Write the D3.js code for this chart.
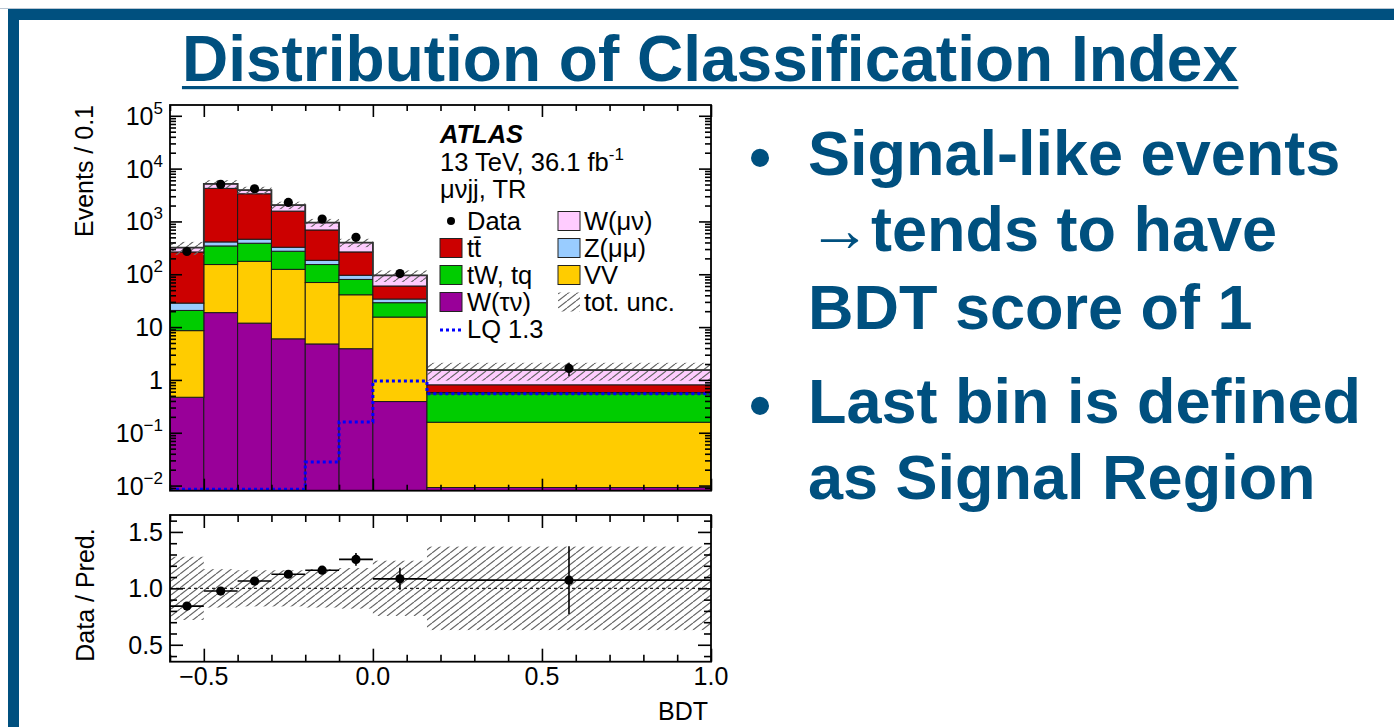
<!DOCTYPE html>
<html>
<head>
<meta charset="utf-8">
<script src="https://cdn.jsdelivr.net/npm/d3@7"></script>
<style>
  html, body { margin: 0; padding: 0; background: #ffffff; }
  svg { display: block; }
</style>
</head>
<body>
<svg id="slide" width="1394" height="727"></svg>
<script>
// ---- BDT histogram: bin edges and per-bin yields (events / 0.1) ----
const bdtEdges   = [-0.6, -0.5, -0.4, -0.3, -0.2, -0.1, 0.0, 0.16, 1.0];
const dataEvents = [270, 5030, 4160, 2290, 1107, 500, 103, 1.65];
const dataRelErr = [0.035, 0.014, 0.016, 0.02, 0.03, 0.045, 0.09, 0.28];
const wTauNu     = [0.47, 18.8, 11.9, 6.0, 4.8, 3.9, 0.39, 0.0092];
const dibosonVV  = [8.1, 134, 164, 118, 65, 37, 15.1, 0.149];
const singleTop  = [12.1, 191, 211, 149, 83, 39, 13.5, 0.39];
const zMuMu      = [7.8, 66, 74, 52, 31, 16, 5, 0.03];
const ttbar      = [236, 3820, 2880, 1245, 506, 169, 26, 0.23];
const wMuNu      = [56, 924, 566, 466, 264, 133, 35, 0.73];
const lq13       = [0, 0, 0, 0, 0.028, 0.16, 0.95, 0.55];
const totUnc     = [0.28, 0.17, 0.16, 0.16, 0.17, 0.18, 0.245, 0.37];

// ---- axis tick labels ----
const mainYLabels  = [{v: 1e5, b: "10", e: "5"}, {v: 1e4, b: "10", e: "4"}, {v: 1e3, b: "10", e: "3"},
                      {v: 1e2, b: "10", e: "2"}, {v: 10, b: "10", e: ""}, {v: 1, b: "1", e: ""},
                      {v: 0.1, b: "10", e: "\u22121"}, {v: 0.01, b: "10", e: "\u22122"}];
const ratioYLabels = [{v: 0.5, t: "0.5"}, {v: 1.0, t: "1.0"}, {v: 1.5, t: "1.5"}];
const xLabels      = [{v: -0.5, t: "\u22120.5"}, {v: 0.0, t: "0.0"}, {v: 0.5, t: "0.5"}, {v: 1.0, t: "1.0"}];

// ---- process definitions (stack order bottom to top) ----
const processes = [
  {key: "wtaunu", label: "W(\u03C4\u03BD)", values: wTauNu,    color: "#990099"},
  {key: "vv",     label: "VV",              values: dibosonVV, color: "#ffcc00"},
  {key: "tw",     label: "tW, tq",          values: singleTop, color: "#00cc00"},
  {key: "zmumu",  label: "Z(\u03BC\u03BC)", values: zMuMu,     color: "#99ccff"},
  {key: "ttbar",  label: "tt\u0304",        values: ttbar,     color: "#cc0000"},
  {key: "wmunu",  label: "W(\u03BC\u03BD)", values: wMuNu,     color: "#ffccff"}
];

const BLUE = "#00507f";
const FONT = "'Liberation Sans', Arial, Helvetica, sans-serif";

const svg = d3.select("#slide");

// ---------- slide frame ----------
svg.append("rect").attr("x", 0).attr("y", 8).attr("width", 1394).attr("height", 1).attr("fill", "#b9c6d3");
svg.append("rect").attr("x", 8).attr("y", 9).attr("width", 1386).attr("height", 11).attr("fill", BLUE);
svg.append("rect").attr("x", 8).attr("y", 9).attr("width", 11).attr("height", 718).attr("fill", BLUE);

// ---------- slide title ----------
const title = svg.append("text")
  .attr("x", 710).attr("y", 81)
  .attr("text-anchor", "middle")
  .attr("font-family", FONT).attr("font-weight", "bold").attr("font-size", 64)
  .attr("fill", BLUE)
  .text("Distribution of Classification Index");
const tb = title.node().getBBox();
svg.append("rect").attr("x", tb.x).attr("y", 86).attr("width", tb.width).attr("height", 3.2).attr("fill", BLUE);

// ---------- bullet text ----------
const bulletLines = [
  {y: 175, t: "Signal-like events", dot: true},
  {y: 251, t: "\u2192tends to have", dot: false},
  {y: 329, t: "BDT score of 1", dot: false},
  {y: 423, t: "Last bin is defined", dot: true},
  {y: 499, t: "as Signal Region", dot: false}
];
const bullets = svg.append("g").attr("font-family", FONT).attr("font-weight", "bold")
  .attr("font-size", 63).attr("fill", BLUE);
bulletLines.forEach(l => {
  if (l.dot) bullets.append("text").attr("x", 749).attr("y", l.y + 4).text("\u2022");
  bullets.append("text").attr("x", 808).attr("y", l.y).text(l.t);
});

// ---------- scales ----------
const frameL = 170, frameR = 711;
const mainTop = 105, mainBot = 490.7;
const ratTop = 515, ratBot = 661.7;
const yMin = 0.008;

const x = d3.scaleLinear().domain([-0.6, 1.0]).range([frameL, frameR]);
const y = d3.scaleLog().domain([yMin, 1.6e5]).range([mainBot, mainTop]);
const yr = d3.scaleLinear().domain([0.35, 1.65]).range([ratBot, ratTop]);

// hatch pattern for total uncertainty
const defs = svg.append("defs");
const pat = defs.append("pattern").attr("id", "hatch").attr("patternUnits", "userSpaceOnUse")
  .attr("width", 9).attr("height", 7);
pat.append("path").attr("d", "M0,7 L9,0 M-9,7 L0,0 M9,7 L18,0")
  .attr("stroke", "#666").attr("stroke-width", 1.2).attr("fill", "none");
defs.append("clipPath").attr("id", "clipMain").append("rect")
  .attr("x", frameL).attr("y", mainTop).attr("width", frameR - frameL).attr("height", mainBot - mainTop);
defs.append("clipPath").attr("id", "clipRatio").append("rect")
  .attr("x", frameL).attr("y", ratTop).attr("width", frameR - frameL).attr("height", ratBot - ratTop);

// ---------- stacked histogram ----------
const bins = bdtEdges.slice(0, -1).map((lo, i) => {
  const row = {i, lo, hi: bdtEdges[i + 1]};
  processes.forEach(p => row[p.key] = p.values[i]);
  return row;
});
const stack = d3.stack().keys(processes.map(p => p.key))(bins);
const total = bins.map(b => d3.sum(processes, p => b[p.key]));

const main = svg.append("g").attr("clip-path", "url(#clipMain)");
stack.forEach((layer, li) => {
  main.append("g").selectAll("rect").data(layer).join("rect")
    .attr("x", d => x(d.data.lo))
    .attr("width", d => x(d.data.hi) - x(d.data.lo))
    .attr("y", d => y(Math.max(d[1], yMin)))
    .attr("height", d => y(Math.max(d[0], yMin)) - y(Math.max(d[1], yMin)))
    .attr("fill", processes[li].color)
    .attr("stroke", "#1a1a1a").attr("stroke-width", 1);
});

// uncertainty band on total
main.append("g").selectAll("rect").data(bins).join("rect")
  .attr("x", d => x(d.lo)).attr("width", d => x(d.hi) - x(d.lo))
  .attr("y", d => y(total[d.i] * (1 + totUnc[d.i])))
  .attr("height", d => y(total[d.i] * (1 - totUnc[d.i])) - y(total[d.i] * (1 + totUnc[d.i])))
  .attr("fill", "url(#hatch)");

// total prediction outline
const stepPts = [];
bins.forEach(b => { stepPts.push([b.lo, total[b.i]]); stepPts.push([b.hi, total[b.i]]); });
main.append("path")
  .attr("d", d3.line().x(d => x(d[0])).y(d => y(d[1]))(stepPts))
  .attr("fill", "none").attr("stroke", "#333").attr("stroke-width", 1.8);

// LQ signal, dotted
const lqPts = [];
bins.forEach(b => { const v = Math.max(lq13[b.i], yMin); lqPts.push([b.lo, v]); lqPts.push([b.hi, v]); });
main.append("path")
  .attr("d", d3.line().x(d => x(d[0])).y(d => Math.min(y(d[1]), mainBot - 1.5))(lqPts))
  .attr("fill", "none").attr("stroke", "#0000ff").attr("stroke-width", 3)
  .attr("stroke-dasharray", "3,3");

// data points
const centre = b => (b.lo + b.hi) / 2;
const dataG = svg.append("g");
dataG.selectAll("line").data(bins).join("line")
  .attr("x1", d => x(centre(d))).attr("x2", d => x(centre(d)))
  .attr("y1", d => y(dataEvents[d.i] * (1 + dataRelErr[d.i])))
  .attr("y2", d => y(dataEvents[d.i] * (1 - dataRelErr[d.i])))
  .attr("stroke", "#000").attr("stroke-width", 1.6);
dataG.selectAll("circle").data(bins).join("circle")
  .attr("cx", d => x(centre(d))).attr("cy", d => y(dataEvents[d.i]))
  .attr("r", 4.6).attr("fill", "#000");

// ---------- ratio panel ----------
const ratio = svg.append("g").attr("clip-path", "url(#clipRatio)");
ratio.append("g").selectAll("rect").data(bins).join("rect")
  .attr("x", d => x(d.lo)).attr("width", d => x(d.hi) - x(d.lo))
  .attr("y", d => yr(1 + totUnc[d.i]))
  .attr("height", d => yr(1 - totUnc[d.i]) - yr(1 + totUnc[d.i]))
  .attr("fill", "url(#hatch)");
ratio.append("line")
  .attr("x1", frameL).attr("x2", frameR).attr("y1", yr(1)).attr("y2", yr(1))
  .attr("stroke", "#222").attr("stroke-width", 1.2).attr("stroke-dasharray", "3,3");

const ratioVal = bins.map(b => dataEvents[b.i] / total[b.i]);
const rg = ratio.append("g");
rg.selectAll("line.h").data(bins).join("line").attr("class", "h")
  .attr("x1", d => x(d.lo)).attr("x2", d => x(d.hi))
  .attr("y1", d => yr(ratioVal[d.i])).attr("y2", d => yr(ratioVal[d.i]))
  .attr("stroke", "#000").attr("stroke-width", 1.6);
rg.selectAll("line.v").data(bins).join("line").attr("class", "v")
  .attr("x1", d => x(centre(d))).attr("x2", d => x(centre(d)))
  .attr("y1", d => yr(ratioVal[d.i] * (1 + dataRelErr[d.i])))
  .attr("y2", d => yr(ratioVal[d.i] * (1 - dataRelErr[d.i])))
  .attr("stroke", "#000").attr("stroke-width", 1.6);
rg.selectAll("circle").data(bins).join("circle")
  .attr("cx", d => x(centre(d))).attr("cy", d => yr(ratioVal[d.i]))
  .attr("r", 4.6).attr("fill", "#000");

// ---------- axes (inward ticks on all sides) ----------
const xMajor = [-0.5, 0.0, 0.5, 1.0];
const xMinor = d3.range(-6, 11).map(k => k / 10).filter(v => !xMajor.some(m => Math.abs(m - v) < 1e-9));
const logMajor = d3.range(-2, 6).map(n => Math.pow(10, n));
const logMinor = [];
d3.range(-3, 6).forEach(n => d3.range(2, 10).forEach(k => {
  const v = k * Math.pow(10, n);
  if (v > yMin && v < 1.6e5) logMinor.push(v);
}));
const rMajor = [0.5, 1.0, 1.5];
const rMinor = d3.range(4, 17).map(k => k / 10).filter(v => !rMajor.some(m => Math.abs(m - v) < 1e-9));

function tickSet(axisFn, scale, values, size, tx, ty) {
  const g = svg.append("g").attr("transform", `translate(${tx},${ty})`)
    .call(axisFn(scale).tickValues(values).tickSize(size).tickFormat(""));
  g.select(".domain").remove();
  g.selectAll("line").attr("stroke", "#000").attr("stroke-width", 1.6);
}
// main panel
tickSet(d3.axisRight, y, logMajor, 12, frameL, 0);
tickSet(d3.axisRight, y, logMinor, 6, frameL, 0);
tickSet(d3.axisLeft, y, logMajor, 12, frameR, 0);
tickSet(d3.axisLeft, y, logMinor, 6, frameR, 0);
tickSet(d3.axisBottom, x, xMajor, 12, 0, mainTop);
tickSet(d3.axisBottom, x, xMinor, 6, 0, mainTop);
tickSet(d3.axisTop, x, xMajor, 12, 0, mainBot);
tickSet(d3.axisTop, x, xMinor, 6, 0, mainBot);
// ratio panel
tickSet(d3.axisRight, yr, rMajor, 13, frameL, 0);
tickSet(d3.axisRight, yr, rMinor, 7, frameL, 0);
tickSet(d3.axisLeft, yr, rMajor, 13, frameR, 0);
tickSet(d3.axisLeft, yr, rMinor, 7, frameR, 0);
tickSet(d3.axisBottom, x, xMajor, 13, 0, ratTop);
tickSet(d3.axisBottom, x, xMinor, 7, 0, ratTop);
tickSet(d3.axisTop, x, xMajor, 13, 0, ratBot);
tickSet(d3.axisTop, x, xMinor, 7, 0, ratBot);

// frames
svg.append("rect").attr("x", frameL).attr("y", mainTop).attr("width", frameR - frameL)
  .attr("height", mainBot - mainTop).attr("fill", "none").attr("stroke", "#000").attr("stroke-width", 1.8);
svg.append("rect").attr("x", frameL).attr("y", ratTop).attr("width", frameR - frameL)
  .attr("height", ratBot - ratTop).attr("fill", "none").attr("stroke", "#000").attr("stroke-width", 1.8);

// ---------- tick labels ----------
const lab = svg.append("g").attr("font-family", FONT).attr("font-size", 25).attr("fill", "#000");
mainYLabels.forEach(d => {
  const t = lab.append("text").attr("x", 163).attr("y", y(d.v) + 9).attr("text-anchor", "end");
  t.append("tspan").text(d.b);
  if (d.e) t.append("tspan").attr("dy", -11).attr("font-size", 17).text(d.e);
});
ratioYLabels.forEach(d => {
  lab.append("text").attr("x", 163).attr("y", yr(d.v) + 9).attr("text-anchor", "end").text(d.t);
});
xLabels.forEach(d => {
  lab.append("text").attr("x", x(d.v)).attr("y", 685).attr("text-anchor", "middle").text(d.t);
});

// axis titles
lab.append("text").attr("x", 708).attr("y", 720).attr("text-anchor", "end").text("BDT");
lab.append("text").attr("transform", `translate(93,${mainTop}) rotate(-90)`)
  .attr("text-anchor", "end").text("Events / 0.1");
lab.append("text").attr("transform", `translate(94,595) rotate(-90)`)
  .attr("text-anchor", "middle").text("Data / Pred.");

// ---------- legend ----------
const leg = svg.append("g").attr("font-family", FONT).attr("font-size", 25.5).attr("fill", "#000");
leg.append("text").attr("x", 440).attr("y", 143).attr("font-weight", "bold").attr("font-style", "italic").text("ATLAS");
const lumi = leg.append("text").attr("x", 440).attr("y", 171);
lumi.append("tspan").text("13 TeV, 36.1 fb");
lumi.append("tspan").attr("dy", -11).attr("font-size", 17).text("-1");
leg.append("text").attr("x", 440).attr("y", 198).text("\u03BC\u03BDjj, TR");

const rowY = [221, 248, 275, 302, 329];
const byKey = Object.fromEntries(processes.map(p => [p.key, p]));
const leftCol = [
  {type: "data", label: "Data"},
  {type: "box", p: byKey.ttbar},
  {type: "box", p: byKey.tw},
  {type: "box", p: byKey.wtaunu},
  {type: "lq", label: "LQ 1.3"}
];
const rightCol = [
  {type: "box", p: byKey.wmunu},
  {type: "box", p: byKey.zmumu},
  {type: "box", p: byKey.vv},
  {type: "unc", label: "tot. unc."}
];
function legendEntry(e, cy, bx, tx) {
  if (e.type === "data") {
    leg.append("circle").attr("cx", bx + 11).attr("cy", cy).attr("r", 4).attr("fill", "#000");
  } else if (e.type === "box") {
    leg.append("rect").attr("x", bx).attr("y", cy - 9.5).attr("width", 22).attr("height", 19)
      .attr("fill", e.p.color).attr("stroke", "#222").attr("stroke-width", 1);
  } else if (e.type === "lq") {
    leg.append("line").attr("x1", bx).attr("x2", bx + 22).attr("y1", cy + 1).attr("y2", cy + 1)
      .attr("stroke", "#0000ff").attr("stroke-width", 3).attr("stroke-dasharray", "3,3");
  } else if (e.type === "unc") {
    leg.append("rect").attr("x", bx).attr("y", cy - 9.5).attr("width", 22).attr("height", 19)
      .attr("fill", "url(#hatch)");
  }
  leg.append("text").attr("x", tx).attr("y", cy + 9).text(e.label || e.p.label);
}
leftCol.forEach((e, i) => legendEntry(e, rowY[i], 440, 467));
rightCol.forEach((e, i) => legendEntry(e, rowY[i], 558, 584));
</script>
</body>
</html>
